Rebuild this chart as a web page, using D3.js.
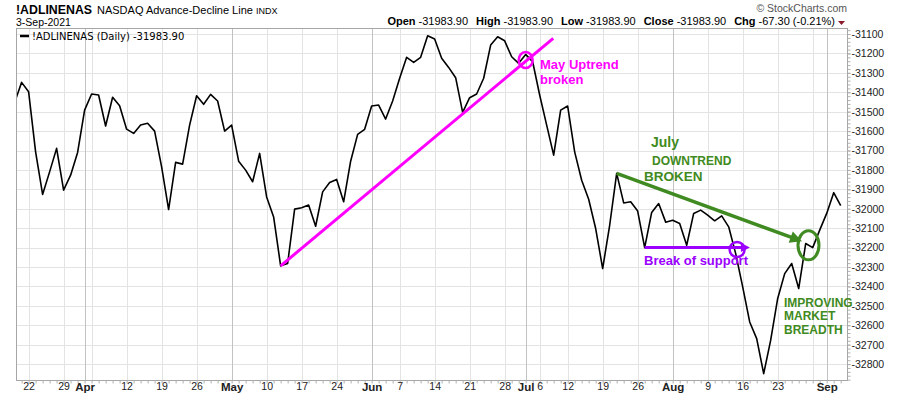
<!DOCTYPE html>
<html>
<head>
<meta charset="utf-8">
<script src="https://cdn.jsdelivr.net/npm/d3@7"></script>
<style>
  body { margin: 0; background: #fff; }
  svg { display: block; }
  text { font-family: 'Liberation Sans', Arial, sans-serif; }
</style>
</head>
<body>
<div id="chart"></div>
<script>
// daily closes of !ADLINENAS, first value is 18-Mar-2021
const values = [
  -31453, -31349, -31397, -31707, -31926, -31810, -31689, -31904, -31827, -31710,
  -31492, -31409, -31414, -31574, -31426, -31470, -31590, -31612, -31569, -31560,
  -31600, -31784, -32004, -31761, -31770, -31569, -31418, -31462, -31411, -31445,
  -31600, -31569, -31755, -31801, -31861, -31715, -31939, -32042, -32294, -32282,
  -32002, -31995, -31981, -32090, -31913, -31865, -31849, -31964, -31755, -31617,
  -31591, -31471, -31466, -31538, -31445, -31328, -31220, -31246, -31220, -31109,
  -31126, -31225, -31272, -31325, -31504, -31428, -31409, -31328, -31157, -31114,
  -31135, -31217, -31251, -31205, -31243, -31414, -31569, -31724, -31492, -31471,
  -31707, -31853, -31951, -32102, -32308, -32085, -31818, -31970, -31964, -32012,
  -32200, -32019, -31973, -32069, -32059, -32076, -32188, -32024, -32007, -32033,
  -32062, -32037, -32093, -32231, -32402, -32583, -32669, -32849, -32677, -32462,
  -32334, -32282, -32411, -32179, -32200, -32110, -32024, -31917, -31984
];
const firstDay = '2021-03-18';
const holidays = ['2021-04-02', '2021-05-31', '2021-07-05'];

const tickDays = ['2021-03-22', '2021-03-29', '2021-04-01', '2021-04-12', '2021-04-19', '2021-04-26',
  '2021-05-03', '2021-05-10', '2021-05-17', '2021-05-24', '2021-06-01', '2021-06-07', '2021-06-14',
  '2021-06-21', '2021-06-28', '2021-07-01', '2021-07-06', '2021-07-12', '2021-07-19', '2021-07-26',
  '2021-08-02', '2021-08-09', '2021-08-16', '2021-08-23', '2021-09-01'];
const tickLabels = ['22', '29', 'Apr', '12', '19', '26', 'May', '10', '17', '24', 'Jun', '7', '14',
  '21', '28', 'Jul', '6', '12', '19', '26', 'Aug', '9', '16', '23', 'Sep'];
const monthLabels = ['Apr', 'May', 'Jun', 'Jul', 'Aug', 'Sep'];
const yTicks = [-31100, -31200, -31300, -31400, -31500, -31600, -31700, -31800, -31900,
  -32000, -32100, -32200, -32300, -32400, -32500, -32600, -32700, -32800];

const W = 900, H = 396;
const plot = { left: 16, right: 847, top: 28, bottom: 380 };

const parse = d3.utcParse('%Y-%m-%d');
const fmt = d3.utcFormat('%Y-%m-%d');
const days = [];
for (let d = parse(firstDay); days.length < values.length; d = d3.utcDay.offset(d, 1)) {
  const wd = d.getUTCDay();
  if (wd === 0 || wd === 6 || holidays.includes(fmt(d))) continue;
  days.push(fmt(d));
}
const dayIndex = new Map(days.map((d, i) => [d, i]));

// gridlines: first trading day of every week and every month
const gridIdx = [];
const monthIdx = [];
days.forEach((d, i) => {
  if (i === 0) return;
  const a = parse(days[i - 1]), b = parse(d);
  const newMonth = a.getUTCMonth() !== b.getUTCMonth();
  if (newMonth) monthIdx.push(i);
  if (newMonth || +d3.utcMonday.floor(a) !== +d3.utcMonday.floor(b)) gridIdx.push(i);
});

const x = d3.scaleLinear().domain([0.2, 118.9]).range([plot.left, plot.right]);
const y = d3.scaleLinear().domain([-32882, -31069]).range([plot.bottom, plot.top]);

const svg = d3.select('#chart').append('svg').attr('width', W).attr('height', H);

// header
svg.append('text').attr('x', 16).attr('y', 13.5)
  .attr('textLength', 76).attr('lengthAdjust', 'spacingAndGlyphs')
  .style('font-weight', 'bold').style('font-size', '13.5px').text('!ADLINENAS');
const head = svg.append('text').attr('x', 97).attr('y', 13.5);
head.append('tspan').text('NASDAQ Advance-Decline Line ').style('font-size', '11px');
head.append('tspan').text('INDX').style('font-size', '9px');
svg.append('text').attr('x', 16).attr('y', 25.5).style('font-size', '10.5px').text('3-Sep-2021');
svg.append('text').attr('x', 847).attr('y', 12).attr('text-anchor', 'end')
  .style('font-size', '10.5px').style('fill', '#555').text('\u00a9 StockCharts.com');

const quote = svg.append('text').attr('x', 835).attr('y', 25).attr('text-anchor', 'end').style('font-size', '11px');
[['Open', '-31983.90'], ['High', '-31983.90'], ['Low', '-31983.90'], ['Close', '-31983.90'], ['Chg', '-67.30 (-0.21%)']]
  .forEach(([k, v], i) => {
    quote.append('tspan').attr('dx', i ? 8 : 0).style('font-weight', 'bold').text(k);
    quote.append('tspan').attr('dx', 3).text(v);
  });
svg.append('path').attr('d', 'M838,21h7l-3.5,4z').attr('fill', '#8b1a2b');

// grid
const grid = svg.append('g');
grid.selectAll('.hg').data(yTicks).enter().append('line')
  .attr('x1', plot.left).attr('x2', plot.right)
  .attr('y1', d => Math.round(y(d)) + 0.5).attr('y2', d => Math.round(y(d)) + 0.5)
  .attr('stroke', '#e3e3e3');
grid.selectAll('.vg').data(gridIdx).enter().append('line')
  .attr('x1', d => Math.round(x(d)) + 0.5).attr('x2', d => Math.round(x(d)) + 0.5)
  .attr('y1', plot.top).attr('y2', plot.bottom)
  .attr('stroke', d => monthIdx.includes(d) ? '#c2c2c2' : '#e3e3e3');

svg.append('rect')
  .attr('x', plot.left + 0.5).attr('y', plot.top + 0.5)
  .attr('width', plot.right - plot.left).attr('height', plot.bottom - plot.top)
  .attr('fill', 'none').attr('stroke', '#a6a6a6');

// axes
const minorX = svg.append('g').attr('transform', `translate(0,${plot.bottom + 0.5})`)
  .call(d3.axisBottom(x).tickValues(d3.range(1, days.length)).tickSize(3).tickFormat(''));
minorX.select('.domain').remove();
minorX.selectAll('line').attr('stroke', '#b0b0b0');

const xAxis = svg.append('g').attr('transform', `translate(0,${plot.bottom})`)
  .call(d3.axisBottom(x).tickValues(tickDays.map(d => dayIndex.get(d))).tickSize(0).tickPadding(3)
    .tickFormat((d, i) => tickLabels[i]));
xAxis.select('.domain').remove();
xAxis.selectAll('text')
  .style('font-family', "'Liberation Sans', Arial, sans-serif")
  .style('font-weight', (d, i) => monthLabels.includes(tickLabels[i]) ? 'bold' : 'normal')
  .style('font-size', (d, i) => monthLabels.includes(tickLabels[i]) ? '11.5px' : '10.5px')
  .attr('fill', '#222');

const minorY = svg.append('g').attr('transform', `translate(${plot.right + 0.5},0)`)
  .call(d3.axisRight(y).tickValues(d3.range(-31080, -32881, -20)).tickSize(3).tickFormat(''));
minorY.select('.domain').remove();
minorY.selectAll('line').attr('stroke', '#b0b0b0');

const yAxis = svg.append('g').attr('transform', `translate(${plot.right + 0.5},0)`)
  .call(d3.axisRight(y).tickValues(yTicks).tickSize(3).tickPadding(1).tickFormat(d => String(d)));
yAxis.select('.domain').remove();
yAxis.selectAll('line').attr('stroke', '#b0b0b0');
yAxis.selectAll('text')
  .style('font-family', "'Liberation Sans', Arial, sans-serif")
  .style('font-size', '10.5px').attr('fill', '#222');

// price line
svg.append('clipPath').attr('id', 'clip').append('rect')
  .attr('x', plot.left + 1).attr('y', plot.top + 1)
  .attr('width', plot.right - plot.left - 1).attr('height', plot.bottom - plot.top - 1);

svg.append('path')
  .datum(values)
  .attr('clip-path', 'url(#clip)')
  .attr('fill', 'none')
  .attr('stroke', '#000')
  .attr('stroke-width', 1.6)
  .attr('stroke-linejoin', 'round')
  .attr('d', d3.line().x((d, i) => x(i)).y(d => y(d)));

// legend
svg.append('line').attr('x1', 20).attr('x2', 29).attr('y1', 36).attr('y2', 36)
  .attr('stroke', '#000').attr('stroke-width', 2.5);
svg.append('text').attr('x', 32).attr('y', 40)
  .style('font-family', "'DejaVu Sans', Verdana, sans-serif").style('font-size', '10px')
  .text('!ADLINENAS (Daily) -31983.90');

// annotations
const magenta = '#ff00ff', green = '#3f8a21', purple = '#9b00ff';
const ann = svg.append('g');

function arrowHead(p0, p1, len, half, color) {
  const a = Math.atan2(p1[1] - p0[1], p1[0] - p0[0]);
  const bx = p1[0] - len * Math.cos(a), by = p1[1] - len * Math.sin(a);
  const nx = -Math.sin(a) * half, ny = Math.cos(a) * half;
  ann.append('path')
    .attr('d', `M${p1[0]},${p1[1]}L${bx + nx},${by + ny}L${bx - nx},${by - ny}Z`)
    .attr('fill', color);
}

const up0 = [x(38), y(-32294)], up1 = [x(76.94), y(-31122)];
ann.append('line').attr('x1', up0[0]).attr('y1', up0[1]).attr('x2', up1[0]).attr('y2', up1[1])
  .attr('stroke', magenta).attr('stroke-width', 3);
ann.append('ellipse').attr('cx', x(73)).attr('cy', y(-31234)).attr('rx', 7).attr('ry', 8)
  .attr('fill', 'none').attr('stroke', magenta).attr('stroke-width', 2.5);
ann.append('text').attr('x', 540).attr('y', 69).attr('fill', magenta)
  .style('font-weight', 'bold').style('font-size', '13px').text('May Uptrend');
ann.append('text').attr('x', 540).attr('y', 84).attr('fill', magenta)
  .style('font-weight', 'bold').style('font-size', '13px').text('broken');

const dn0 = [x(86), y(-31818)], dn1 = [x(112.47), y(-32167)];
const dnAngle = Math.atan2(dn1[1] - dn0[1], dn1[0] - dn0[0]);
ann.append('line').attr('x1', dn0[0]).attr('y1', dn0[1])
  .attr('x2', dn1[0] - 6 * Math.cos(dnAngle)).attr('y2', dn1[1] - 6 * Math.sin(dnAngle))
  .attr('stroke', green).attr('stroke-width', 3.5);
arrowHead(dn0, dn1, 12, 6, green);
ann.append('ellipse').attr('cx', x(113.4)).attr('cy', y(-32188)).attr('rx', 10.5).attr('ry', 14.5)
  .attr('fill', 'none').attr('stroke', green).attr('stroke-width', 3);
ann.append('text').attr('x', 651).attr('y', 147).attr('fill', green)
  .style('font-weight', 'bold').style('font-size', '14px').text('July');
ann.append('text').attr('x', 652).attr('y', 165).attr('fill', green)
  .style('font-weight', 'bold').style('font-size', '12px').text('DOWNTREND');
ann.append('text').attr('x', 644).attr('y', 181).attr('fill', green)
  .style('font-weight', 'bold').style('font-size', '13.5px').text('BROKEN');
['IMPROVING', 'MARKET', 'BREADTH'].forEach((t, i) => {
  ann.append('text').attr('x', 784).attr('y', 306.5 + i * 13.7).attr('fill', green)
    .style('font-weight', 'bold').style('font-size', '12px').text(t);
});

const sp0 = [x(90), y(-32200)], sp1 = [x(105.04), y(-32200)];
ann.append('line').attr('x1', sp0[0]).attr('y1', sp0[1]).attr('x2', sp1[0] - 6).attr('y2', sp1[1])
  .attr('stroke', purple).attr('stroke-width', 3);
arrowHead(sp0, sp1, 9, 4.5, purple);
ann.append('circle').attr('cx', x(103.2)).attr('cy', y(-32210)).attr('r', 7.5)
  .attr('fill', 'none').attr('stroke', purple).attr('stroke-width', 2.5);
ann.append('text').attr('x', 644).attr('y', 265).attr('fill', purple)
  .style('font-weight', 'bold').style('font-size', '13px').text('Break of support');
</script>
</body>
</html>
